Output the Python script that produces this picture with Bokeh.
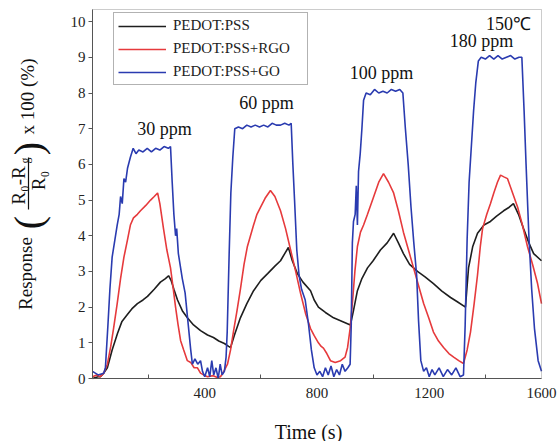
import math
from bokeh.plotting import figure
from bokeh.models import (Label, Legend, LegendItem, FixedTicker, Range1d, BoxAnnotation)
from bokeh.embed import file_html
from bokeh.resources import INLINE

# ---------------- data ----------------
t_pss = [0, 20, 28, 40, 53, 70, 89, 105, 125, 140, 160, 180, 196, 220, 242, 260, 271, 280, 290, 303,
         320, 338, 360, 385, 410, 431, 450, 470, 485, 492, 505, 527, 550, 574, 600, 624, 650, 670,
         685, 698, 712, 730, 750, 777, 790, 805, 830, 859, 890, 919, 930, 944, 960, 980, 1000, 1026,
         1050, 1073, 1090, 1108, 1130, 1158, 1185, 1215, 1245, 1276, 1300, 1329, 1340, 1355, 1372,
         1395, 1418, 1440, 1465, 1485, 1500, 1518, 1536, 1555, 1572, 1600]
r_pss = [0.0, 0.05, 0.05, 0.15, 0.3, 0.8, 1.26, 1.6, 1.8, 1.95, 2.1, 2.2, 2.3, 2.5, 2.7, 2.8, 2.88, 2.75,
         2.5, 2.2, 1.9, 1.7, 1.5, 1.34, 1.22, 1.15, 1.05, 0.98, 0.9, 0.87, 1.2, 1.7, 2.1, 2.46, 2.75,
         2.94, 3.15, 3.3, 3.5, 3.67, 3.3, 2.94, 2.7, 2.46, 2.2, 2.0, 1.85, 1.7, 1.6, 1.5, 1.9, 2.46,
         2.8, 3.1, 3.3, 3.6, 3.8, 4.07, 3.8, 3.5, 3.2, 3.0, 2.85, 2.66, 2.45, 2.27, 2.15, 2.0, 3.1,
         3.7, 4.07, 4.3, 4.4, 4.55, 4.7, 4.8, 4.9, 4.6, 4.2, 3.8, 3.5, 3.3]

t_rgo = [0, 15, 28, 40, 53, 65, 75, 88, 100, 112, 125, 135, 146, 160, 171, 190, 207, 220, 232, 240,
         253, 265, 278, 288, 296, 305, 314, 325, 338, 350, 362, 374, 385, 396, 410, 430, 445, 456,
         468, 481, 492, 502, 515, 527, 540, 552, 563, 574, 586, 599, 615, 634, 650, 670, 688, 706,
         724, 741, 760, 777, 790, 805, 815, 823, 835, 848, 865, 884, 900, 909, 918, 927, 935, 944,
         955, 966, 980, 1001, 1020, 1037, 1055, 1073, 1090, 1108, 1126, 1144, 1162, 1180, 1198,
         1215, 1233, 1251, 1270, 1287, 1305, 1322, 1335, 1347, 1360, 1372, 1382, 1390, 1405, 1418,
         1430, 1443, 1454, 1466, 1479, 1497, 1515, 1532, 1550, 1568, 1586, 1600]
r_rgo = [0.05, 0.1, 0.05, 0.15, 0.4, 0.9, 1.4, 2.1, 2.8, 3.4, 3.9, 4.3, 4.5, 4.6, 4.7, 4.85, 5.0, 5.1,
         5.2, 4.9, 4.2, 3.6, 3.1, 2.5, 2.0, 1.5, 1.06, 0.8, 0.5, 0.45, 0.3, 0.3, 0.15, 0.1, 0.05,
         0.08, 0.03, 0.05, 0.2, 0.4, 0.8, 1.3, 1.9, 2.5, 3.2, 3.7, 4.0, 4.3, 4.6, 4.8, 5.05, 5.27,
         5.1, 4.7, 4.2, 3.6, 3.0, 2.4, 1.8, 1.4, 1.2, 1.0, 0.9, 0.85, 0.7, 0.5, 0.45, 0.5, 0.6, 0.87,
         1.4, 2.2, 3.0, 3.7, 4.1, 4.3, 4.6, 5.07, 5.5, 5.74, 5.5, 5.2, 4.7, 4.1, 3.6, 3.1, 2.6, 2.1,
         1.7, 1.3, 1.05, 0.87, 0.7, 0.6, 0.5, 0.42, 0.8, 1.3, 2.1, 2.9, 3.7, 4.2, 4.6, 4.9, 5.2, 5.5,
         5.7, 5.65, 5.6, 5.2, 4.8, 4.3, 3.7, 3.2, 2.66, 2.1]

t_go = [0, 20, 40, 46, 55, 62, 70, 80, 88, 95, 100, 106, 112, 118, 125, 135, 145, 155, 165, 180, 195,
        210, 225, 240, 255, 270, 278, 284, 290, 296, 300, 306, 312, 320, 330, 340, 350, 356, 365,
        375, 385, 392, 400, 410, 418, 425, 432, 440, 448, 455, 462, 470, 476, 480, 487, 493, 500,
        507, 520, 535, 550, 565, 580, 595, 610, 625, 640, 655, 670, 685, 700, 708, 714, 720, 728,
        736, 745, 758, 770, 780, 790, 800, 810, 820, 830, 840, 850, 860, 870, 880, 890, 900, 910,
        918, 922, 926, 930, 936, 940, 944, 948, 954, 960, 966, 975, 990, 1005, 1020, 1035, 1050,
        1065, 1080, 1095, 1106, 1115, 1125, 1135, 1145, 1155, 1162, 1170, 1180, 1190, 1200, 1210,
        1220, 1235, 1250, 1265, 1280, 1295, 1310, 1322, 1328, 1335, 1342, 1350, 1358, 1366, 1375,
        1385, 1400, 1415, 1430, 1445, 1460, 1475, 1490, 1505, 1520, 1530, 1538, 1545, 1555, 1565,
        1575, 1588, 1600]
r_go = [0.2, 0.1, 0.15, 0.3, 1.5, 2.5, 3.4, 3.9, 4.3, 4.6, 5.1, 4.9, 5.6, 5.5, 5.9, 6.2, 6.45, 6.3,
        6.4, 6.35, 6.45, 6.35, 6.45, 6.4, 6.5, 6.45, 6.5, 5.5, 4.6, 4.0, 4.2, 3.5, 3.2, 2.8, 2.4,
        1.6, 0.8, 0.4, 0.55, 0.4, 0.5, 0.2, 0.05, 0.3, 0.05, 0.5, 0.1, 0.3, 0.0, 0.4, 0.1, 0.2, 0.6,
        1.3, 3.5, 5.2, 6.2, 7.0, 7.05, 7.0, 7.1, 7.05, 7.1, 7.05, 7.1, 7.05, 7.15, 7.1, 7.1, 7.15,
        7.1, 7.15, 6.0, 5.0, 3.6, 2.9, 2.5, 2.2, 1.5, 0.8, 0.3, 0.1, 0.2, 0.05, 0.3, 0.1, 0.35,
        0.05, 0.25, 0.1, 0.4, 0.2, 0.3, 0.4, 1.5, 3.8, 4.4, 4.6, 5.4, 4.3, 5.8, 6.3, 7.0, 7.8, 8.0,
        7.95, 8.1, 8.0, 8.05, 8.0, 8.1, 8.05, 8.1, 8.0, 7.0, 6.0, 4.8, 3.8, 2.9, 1.6, 0.5, 0.2, 0.3,
        0.05, 0.25, 0.1, 0.3, 0.05, 0.25, 0.1, 0.3, 0.05, 0.1, 1.5, 3.9, 5.5, 6.5, 7.5, 8.3, 8.9,
        9.0, 8.95, 9.05, 8.95, 9.05, 8.95, 9.0, 9.05, 8.95, 9.0, 9.0, 7.5, 6.0, 4.0, 2.5, 1.4, 0.5,
        0.2]

series_names = ["PEDOT:PSS", "PEDOT:PSS+RGO", "PEDOT:PSS+GO"]
conc_labels = ["30 ppm", "60 ppm", "100 ppm", "180 ppm"]
x_ticks = [400, 800, 1200, 1600]
x_minor = [200, 600, 1000, 1400]
y_ticks = list(range(0, 11))
X_MAX = 1600
Y_MAX = 10.34

SERIF = "Liberation Serif"
FRAME = "#555555"
INK = "#111111"

# Canvas geometry: the frame fills the whole canvas; the plot box is drawn inside it
W, H = 557, 441
BOX_L, BOX_R, BOX_T, BOX_B = 92, 541, 9, 378          # plot box in pixels
kx = X_MAX / (BOX_R - BOX_L)
ky = Y_MAX / (BOX_B - BOX_T)
x_rng = Range1d(-BOX_L * kx, (W - BOX_L) * kx)
y_rng = Range1d(-(H - BOX_B) * ky, BOX_B * ky)

p = figure(frame_width=W, frame_height=H, output_backend="svg", toolbar_location=None,
           x_range=x_rng, y_range=y_rng,
           min_border_left=0, min_border_right=0, min_border_top=0, min_border_bottom=0)
p.background_fill_color = "white"
p.border_fill_color = "white"
p.outline_line_color = None
p.xgrid.visible = False
p.ygrid.visible = False

# plot box
p.add_layout(BoxAnnotation(left=0, right=X_MAX, bottom=0, top=Y_MAX, fill_alpha=0,
                           line_color=FRAME, line_width=1))

# axes, fixed at the box edges
xa = p.xaxis[0]
xa.fixed_location = 0
xa.bounds = (0, X_MAX)
xa.ticker = FixedTicker(ticks=x_ticks, minor_ticks=x_minor)
xa.major_tick_in = 0
xa.major_tick_out = 0
xa.minor_tick_in = 4
xa.minor_tick_out = 0
xa.minor_tick_line_color = FRAME
xa.axis_line_color = FRAME
xa.major_label_text_font = SERIF
xa.major_label_text_font_size = "15px"
xa.major_label_text_color = "#222222"
xa.major_label_standoff = 9

ya = p.yaxis[0]
ya.fixed_location = 0
ya.bounds = (0, Y_MAX)
ya.ticker = FixedTicker(ticks=y_ticks, minor_ticks=[])
ya.major_tick_in = 0
ya.major_tick_out = 4
ya.major_tick_line_color = FRAME
ya.axis_line_color = FRAME
ya.major_label_text_font = SERIF
ya.major_label_text_font_size = "15px"
ya.major_label_text_color = "#222222"
ya.major_label_standoff = 3

# curves
r_black = p.line(t_pss, r_pss, line_color="#1e1e1e", line_width=1.6)
r_red = p.line(t_rgo, r_rgo, line_color="#e63a3c", line_width=1.6)
r_blue = p.line(t_go, r_go, line_color="#2a3bb0", line_width=1.6)

legend = Legend(items=[LegendItem(label=series_names[0], renderers=[r_black]),
                       LegendItem(label=series_names[1], renderers=[r_red]),
                       LegendItem(label=series_names[2], renderers=[r_blue])],
                location=(113, H - 85), orientation="vertical")
legend.border_line_color = "#666666"
legend.border_line_width = 1
legend.background_fill_color = "white"
legend.background_fill_alpha = 1
legend.padding = 4
legend.spacing = 6
legend.margin = 0
legend.glyph_width = 48
legend.glyph_height = 16
legend.label_height = 16
legend.label_width = 130
legend.label_standoff = 7
legend.label_text_font = SERIF
legend.label_text_font_size = "15px"
legend.label_text_color = "#222222"
p.add_layout(legend, "center")

# concentration annotations (data coordinates)
conc_pos = [(257, 7.0), (620, 7.73), (1030, 8.57), (1386, 9.47)]
for txt, (cx, cy) in zip(conc_labels, conc_pos):
    p.add_layout(Label(x=cx, y=cy, text=txt, text_font=SERIF, text_font_size="18px",
                       text_align="center", text_baseline="middle", text_color=INK))
p.add_layout(Label(x=1482, y=9.94, text="150\u2103", text_font=SERIF, text_font_size="18px",
                   text_align="center", text_baseline="middle", text_color=INK))

# screen-positioned texts (px from left, px from top of the canvas)
def slabel(px, py, txt, size, angle=0.0):
    p.add_layout(Label(x=px, y=H - py, x_units="screen", y_units="screen", text=txt, angle=angle,
                       text_font=SERIF, text_font_size=size, text_align="center",
                       text_baseline="middle", text_color=INK))

# x axis title
slabel(308, 431, "Time (s)", "20px")

# y axis title: Response ( (R0-Rg)/R0 ) x 100 (%)
A = math.pi / 2
slabel(25, 273, "Response", "19px", A)
slabel(28, 222, "(", "40px", A)
slabel(18, 185, "R\u2080-R", "19px", A)
slabel(24, 160, "g", "12px", A)
slabel(38, 180, "R\u2080", "19px", A)
slabel(28, 148, ")", "40px", A)
slabel(27, 96, "x 100 (%)", "19px", A)
p.add_layout(BoxAnnotation(left=27.4, right=28.6, bottom=H - 209, top=H - 157,
                           left_units="screen", right_units="screen",
                           bottom_units="screen", top_units="screen",
                           fill_color=INK, fill_alpha=1, line_alpha=0))

open("out.html", "w").write(file_html(p, INLINE))
